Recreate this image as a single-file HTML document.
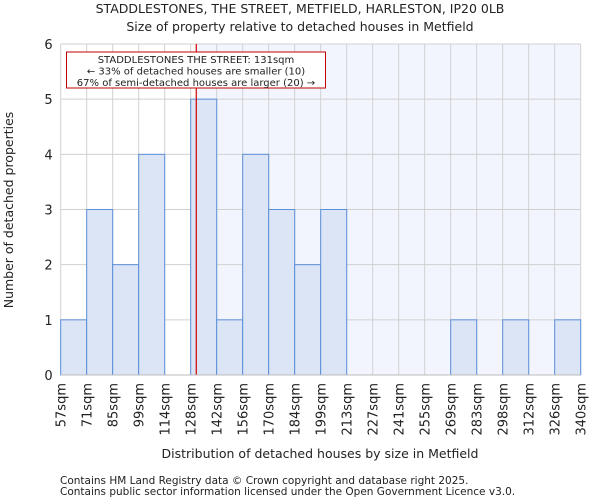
<!DOCTYPE html>
<html><head><meta charset="utf-8"><style>
body{margin:0;background:#fff;font-family:"DejaVu Sans","Liberation Sans",sans-serif}
svg text{font-family:"DejaVu Sans","Liberation Sans",sans-serif;fill:#222}
</style></head><body>
<svg id="chart" width="600" height="500" viewBox="0 0 600 500" xmlns="http://www.w3.org/2000/svg">
<text x="300" y="13" text-anchor="middle" font-size="12.5">STADDLESTONES, THE STREET, METFIELD, HARLESTON, IP20 0LB</text>
<text x="300" y="31" text-anchor="middle" font-size="12.5">Size of property relative to detached houses in Metfield</text>
<g id="plot"></g>
<text x="320" y="458" text-anchor="middle" font-size="12.5">Distribution of detached houses by size in Metfield</text>
<text transform="translate(13,210) rotate(-90)" text-anchor="middle" font-size="12.5">Number of detached properties</text>
<text x="60" y="484" font-size="10.5">Contains HM Land Registry data © Crown copyright and database right 2025.</text>
<text x="60" y="495" font-size="10.5">Contains public sector information licensed under the Open Government Licence v3.0.</text>
</svg>
<script>
const binLabels=["57sqm","71sqm","85sqm","99sqm","114sqm","128sqm","142sqm","156sqm","170sqm","184sqm","199sqm","213sqm","227sqm","241sqm","255sqm","269sqm","283sqm","298sqm","312sqm","326sqm","340sqm"];
const counts=[1,3,2,4,0,5,1,4,3,2,3,0,0,0,0,1,0,1,0,1];
const yTicks=[0,1,2,3,4,5,6];
const markerBin=5.214; // 131sqm position in bin units
const NS="http://www.w3.org/2000/svg";
const X0=60.7,BW=26,Y0=375,YT=44,YMAX=6;
const xs=i=>X0+i*BW;
const ys=v=>Y0-(Y0-YT)*v/YMAX;
const g=document.getElementById('plot');
function mk(t,a){const e=document.createElementNS(NS,t);for(const k in a)e.setAttribute(k,a[k]);g.appendChild(e);return e;}
const xEnd=xs(counts.length);
const mx=xs(markerBin);
let bg=mk('rect',{x:mx,y:YT,width:xEnd-mx,height:Y0-YT,fill:'#f2f5fd'});


for(let i=0;i<=counts.length;i++){const l=mk('line',{x1:xs(i),x2:xs(i),y1:YT,y2:Y0,stroke:'#d0d0d0','stroke-width':1});

}
yTicks.forEach(v=>{const l=mk('line',{x1:X0,x2:xEnd,y1:ys(v),y2:ys(v),stroke:'#d0d0d0','stroke-width':1});


const t=mk('text',{x:X0-8,y:ys(v)+5,'text-anchor':'end','font-size':13});t.textContent=v;

});
counts.forEach((c,i)=>{if(!c)return;const r=mk('rect',{x:xs(i),y:ys(c),width:BW,height:Y0-ys(c),fill:'#dbe5f5',stroke:'#5b8fd9','stroke-width':1});

});
binLabels.forEach((s,i)=>{const t=mk('text',{transform:`translate(${xs(i)+5},383) rotate(-90)`,'text-anchor':'end','font-size':13});t.textContent=s;

});
const ml=mk('line',{x1:mx,x2:mx,y1:YT,y2:Y0,stroke:'#d00000','stroke-width':1.2});


const ax=mk('line',{x1:X0,x2:xEnd,y1:Y0,y2:Y0,stroke:'#bbb','stroke-width':1});


const box=mk('rect',{x:66.5,y:52,width:259,height:36,fill:'#fff',stroke:'#c00000','stroke-width':1});


["STADDLESTONES THE STREET: 131sqm","← 33% of detached houses are smaller (10)","67% of semi-detached houses are larger (20) →"].forEach((s,k)=>{const t=mk('text',{x:196,y:63+k*11.5,'text-anchor':'middle','font-size':10});t.textContent=s;

});
</script>
</body></html>
